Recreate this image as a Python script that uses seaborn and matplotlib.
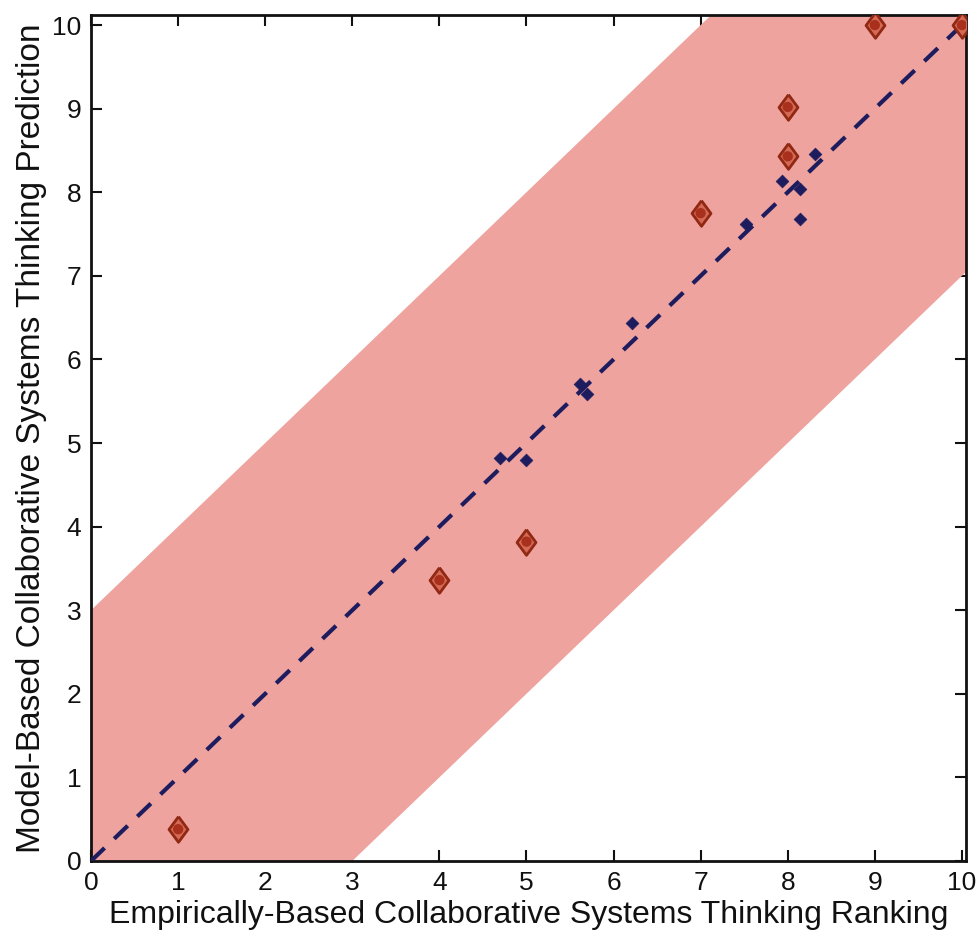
import numpy as np
import pandas as pd
import matplotlib
matplotlib.use("Agg")
import matplotlib.pyplot as plt
import seaborn as sns

# ---- data ----
red_x = [1, 4, 5, 7, 8, 8, 9, 10]
red_y = [0.38, 3.36, 3.82, 7.75, 8.43, 9.02, 10.0, 10.0]
blue_x = [4.70, 5.00, 5.61, 5.70, 6.21, 7.52, 7.93, 8.14, 8.14, 8.31]
blue_y = [4.82, 4.80, 5.71, 5.59, 6.44, 7.62, 8.13, 8.04, 7.68, 8.46]
fit_x = [0, 10]
fit_y = [0, 10]
band_x = [0, 10.05]
band_half = 3
ticks = list(range(0, 11))
xlabel = "Empirically-Based Collaborative Systems Thinking Ranking"
ylabel = "Model-Based Collaborative Systems Thinking Prediction"

sns.set_style("white")
plt.rcParams['font.family'] = ['Liberation Sans', 'DejaVu Sans']

fig = plt.figure(figsize=(9.79, 9.46), dpi=100)
ax = fig.add_axes([0.093, 0.0899, 0.894, 0.8942])

bx = np.array(band_x)
ax.fill_between(bx, bx - band_half, bx + band_half, color='#eea39e', lw=0, zorder=1)

sns.lineplot(x=fit_x, y=fit_y, ax=ax, color='#1c1c5e', lw=3, zorder=3)
ax.lines[-1].set_dashes((4.5, 3.2))

diamond = [(0, 1), (0.74, 0), (0, -1), (-0.74, 0), (0, 1)]
red = pd.DataFrame({'x': red_x, 'y': red_y})
blue = pd.DataFrame({'x': blue_x, 'y': blue_y})
sns.scatterplot(data=blue, x='x', y='y', ax=ax, marker='D', s=42,
                color='#1c1c5e', edgecolor='#1c1c5e', linewidth=0.5, zorder=4)
sns.scatterplot(data=red, x='x', y='y', ax=ax, marker=diamond, s=340,
                color='#d46a55', edgecolor='#902814', linewidth=2, zorder=5)
sns.scatterplot(data=red, x='x', y='y', ax=ax, marker='o', s=55,
                color='#a8301c', edgecolor='none', zorder=6)

ax.set_xlim(0, 10.05)
ax.set_ylim(0, 10.12)
ax.set_xticks(ticks)
ax.set_yticks(ticks)
ax.set_xticklabels([str(t) for t in ticks])
ax.set_yticklabels([str(t) for t in ticks])
ax.tick_params(direction='in', length=8, width=1.5, labelsize=19,
               top=True, right=True, bottom=True, left=True, pad=7, colors='#111111')
for s in ax.spines.values():
    s.set_visible(True)
    s.set_linewidth(2)
    s.set_color('#111111')
ax.set_xlabel(xlabel, fontsize=23, labelpad=4, color='#111111')
ax.set_ylabel(ylabel, fontsize=24, labelpad=4, color='#111111')

fig.savefig('out.png', dpi=100)
